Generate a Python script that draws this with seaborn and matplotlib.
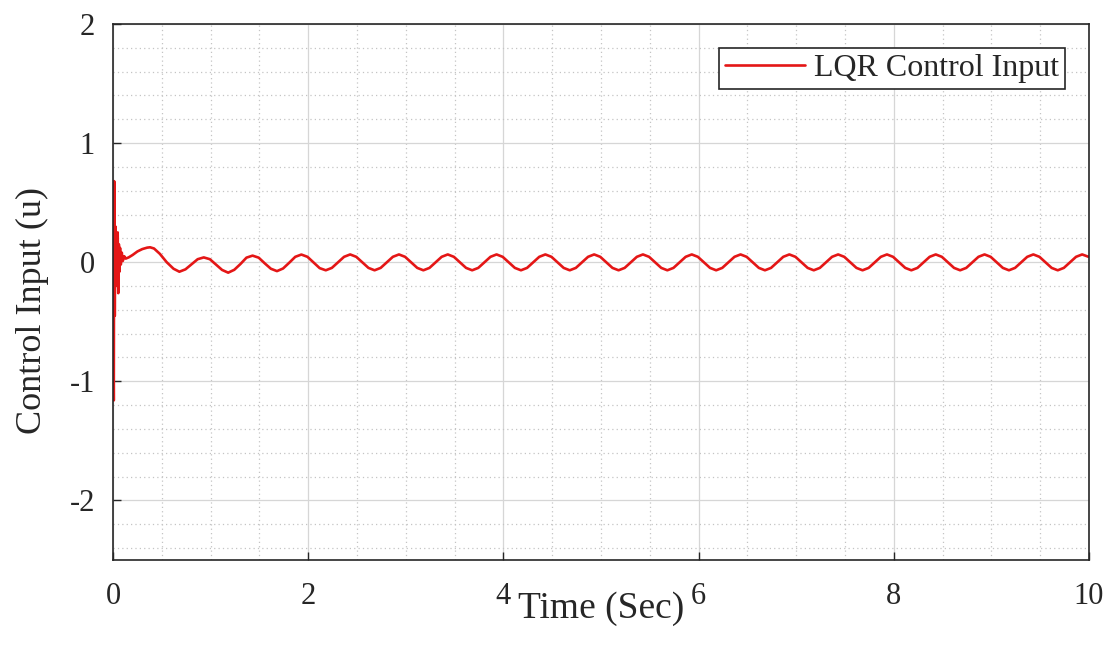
import numpy as np
import matplotlib
matplotlib.use("Agg")
import matplotlib.pyplot as plt
from matplotlib.ticker import MultipleLocator
import pandas as pd
import seaborn as sns

# Initial transient of the LQR control input (time in s, input u)
t_transient = [0.000, 0.008, 0.012, 0.018, 0.024, 0.030, 0.036, 0.042, 0.048,
               0.054, 0.060, 0.066, 0.072, 0.080, 0.090, 0.100, 0.115, 0.130,
               0.160, 0.200, 0.250, 0.300, 0.350, 0.380, 0.420, 0.480, 0.550,
               0.620]
u_transient = [0.00, -1.16, 0.68, -0.45, 0.30, -0.20, 0.12, -0.05, 0.25,
               -0.26, 0.15, -0.08, 0.12, -0.02, 0.08, 0.01, 0.05, 0.03,
               0.04, 0.06, 0.09, 0.11, 0.122, 0.125, 0.115, 0.07, 0.00,
               -0.055]

# Residual oscillation, sampled every 1/16 s starting at the first trough
t_osc_start = 0.68
t_osc_step = 0.0625
u_oscillation = [
    -0.080, -0.060, -0.018, 0.025, 0.040, 0.025, -0.020, -0.065,
    -0.088, -0.064, -0.016, 0.038, 0.055, 0.038, -0.010, -0.055,
    -0.075, -0.053, -0.005, 0.045, 0.064, 0.045, -0.003, -0.050,
    -0.068, -0.048, -0.002, 0.045, 0.065, 0.045, -0.002, -0.048,
    -0.068, -0.048, -0.002, 0.045, 0.065, 0.045, -0.002, -0.048,
    -0.068, -0.048, -0.002, 0.045, 0.065, 0.045, -0.002, -0.048,
    -0.068, -0.048, -0.002, 0.045, 0.065, 0.045, -0.002, -0.048,
    -0.068, -0.048, -0.002, 0.045, 0.065, 0.045, -0.002, -0.048,
    -0.068, -0.048, -0.002, 0.045, 0.065, 0.045, -0.002, -0.048,
    -0.068, -0.048, -0.002, 0.045, 0.065, 0.045, -0.002, -0.048,
    -0.068, -0.048, -0.002, 0.045, 0.065, 0.045, -0.002, -0.048,
    -0.068, -0.048, -0.002, 0.045, 0.065, 0.045, -0.002, -0.048,
    -0.068, -0.048, -0.002, 0.045, 0.065, 0.045, -0.002, -0.048,
    -0.068, -0.048, -0.002, 0.045, 0.065, 0.045, -0.002, -0.048,
    -0.068, -0.048, -0.002, 0.045, 0.065, 0.045, -0.002, -0.048,
    -0.068, -0.048, -0.002, 0.045, 0.065, 0.045, -0.002, -0.048,
    -0.068, -0.048, -0.002, 0.045, 0.065, 0.045, -0.002, -0.048,
    -0.068, -0.048, -0.002, 0.045, 0.065, 0.045, -0.002, -0.048,
    -0.068, -0.048, -0.002, 0.045, 0.065, 0.046,
]

x_ticks = [0, 2, 4, 6, 8, 10]
y_ticks = [-2, -1, 0, 1, 2]
series_name = "LQR Control Input"

t_oscillation = t_osc_start + t_osc_step * np.arange(len(u_oscillation))
df = pd.DataFrame({
    "t": np.concatenate([t_transient, t_oscillation]),
    "u": np.concatenate([u_transient, u_oscillation]),
})

sns.set_theme(style="white")
plt.rcParams["font.family"] = ["Liberation Serif", "DejaVu Serif"]
plt.rcParams["axes.unicode_minus"] = False

fig = plt.figure(figsize=(11.2, 6.55), dpi=100)
ax = fig.add_axes([0.1009, 0.145, 0.8714, 0.8185])

sns.lineplot(data=df, x="t", y="u", ax=ax, color="#e41616", linewidth=1.9,
             estimator=None, sort=False, label=series_name)

ax.set_xlim(0, 10)
ax.set_ylim(-2.5, 2)
ax.set_xticks(x_ticks)
ax.set_yticks(y_ticks)
ax.set_xticklabels([str(v) for v in x_ticks])
ax.set_yticklabels([str(v) for v in y_ticks])
ax.xaxis.set_minor_locator(MultipleLocator(0.5))
ax.yaxis.set_minor_locator(MultipleLocator(0.2))

ax.grid(which="major", color="#d6d6d6", linewidth=0.9, linestyle="-")
ax.grid(which="minor", color="#c4c4c4", linewidth=0.9, linestyle=(0, (1, 2.5)))
ax.set_axisbelow(True)

for s in ax.spines.values():
    s.set_color("#262626")
    s.set_linewidth(1.2)

ax.tick_params(which="major", direction="in", length=6, width=1.0,
               color="#262626", labelsize=22, labelcolor="#262626",
               top=False, right=False, bottom=True, left=True)
ax.tick_params(axis="x", which="major", pad=16)
ax.tick_params(axis="y", which="major", pad=13)
ax.tick_params(which="minor", length=0)

ax.set_xlabel("Time (Sec)", fontsize=27, color="#262626", labelpad=-14)
ax.set_ylabel("Control Input (u)", fontsize=26, color="#262626")
ax.yaxis.set_label_coords(-0.066, 0.465)

leg = ax.legend(loc="upper right", fontsize=23, handlelength=2.5,
                frameon=True, fancybox=False, borderpad=0.18,
                borderaxespad=0.75, handletextpad=0.3)
leg.get_frame().set_edgecolor("#262626")
leg.get_frame().set_linewidth(1.2)
leg.get_frame().set_facecolor("white")
leg.get_frame().set_alpha(1)

fig.savefig("out.png", dpi=100, facecolor="white")
